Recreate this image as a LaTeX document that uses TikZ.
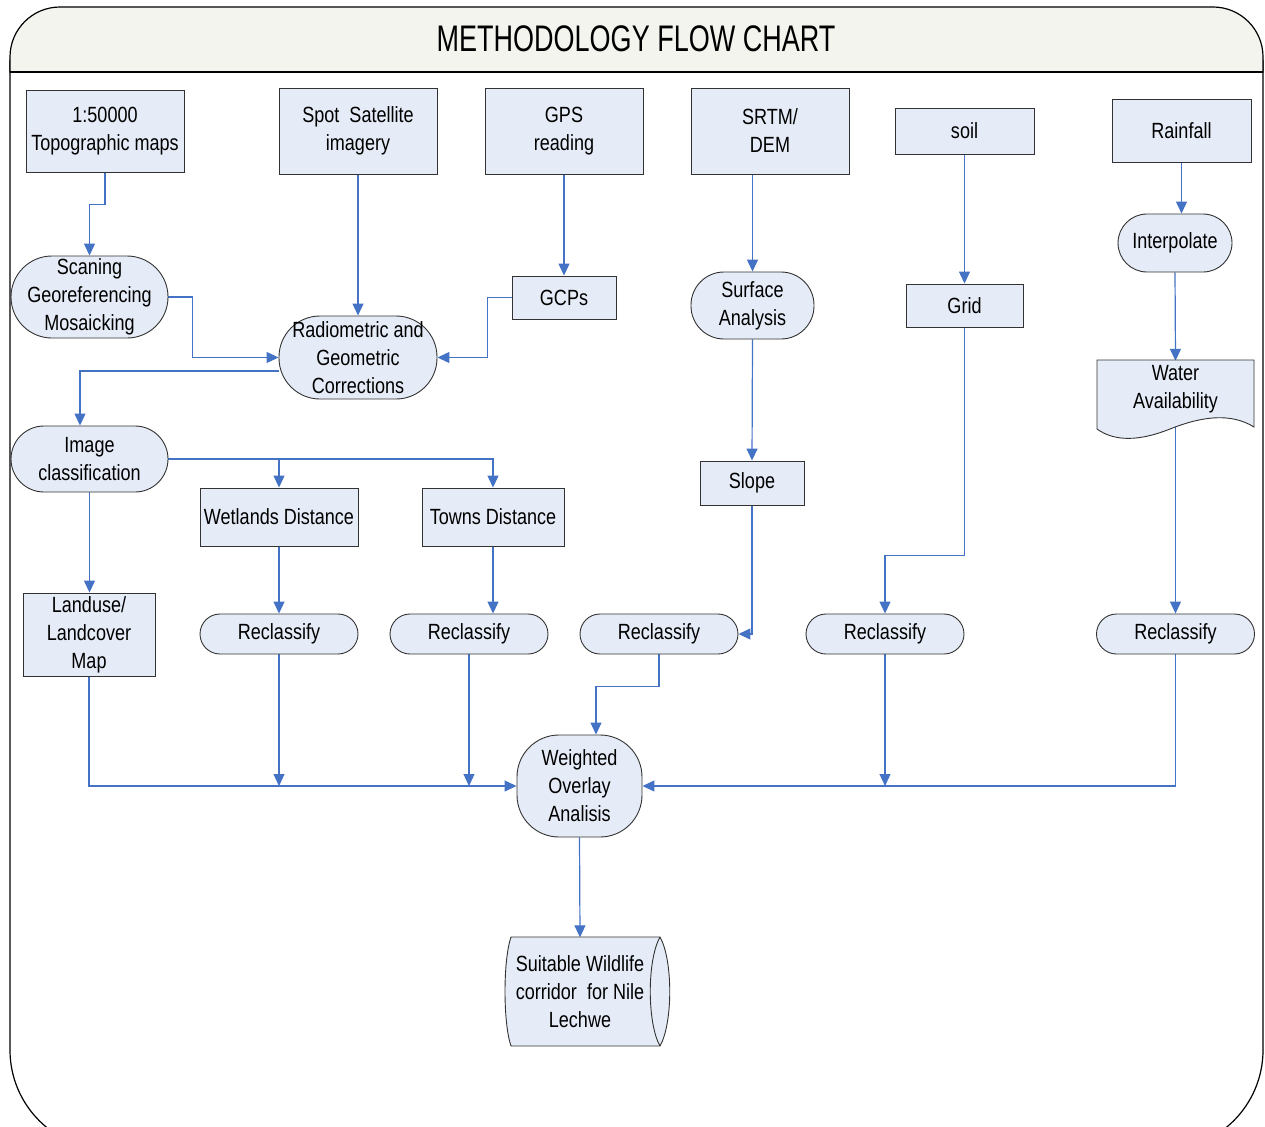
\documentclass[tikz,border=0pt]{standalone}
\usepackage{fontspec}
\newfontfamily\nodefont{Liberation Sans}[FakeStretch=0.82]
\newfontfamily\titlefont{Liberation Sans}[FakeStretch=0.73]
\usetikzlibrary{arrows.meta,backgrounds}
\definecolor{nodefill}{RGB}{230,236,247}
\definecolor{bordc}{RGB}{50,50,50}
\definecolor{conncol}{RGB}{68,114,196}
\definecolor{headfill}{RGB}{244,244,238}
\tikzset{
  base/.style={draw=bordc, fill=nodefill, line width=0.9pt, inner sep=0pt, align=center,
    font=\nodefont\fontsize{22}{28}\selectfont},
  rectbox/.style={base},
  stadium/.style={base, rounded corners=#1},
  plain/.style={inner sep=0pt, align=center, font=\nodefont\fontsize{22}{28}\selectfont},
  conn/.style={draw=conncol, line width=1.2pt, -{Triangle[length=12pt,width=11pt]}},
  conno/.style={draw=conncol, line width=1.2pt}
}
\begin{document}
\begin{tikzpicture}[x=1pt,y=-1pt]
\useasboundingbox (0,0) rectangle (1265,1126);
% frame
\draw[line width=1.2pt, black] (10,60) [rounded corners=100] -- (10,1150) -- (1263,1150) -- (1263,60);
\draw[line width=1.2pt, black, fill=headfill] (10,72) [rounded corners=50] -- (10,7) -- (1263,7) [sharp corners] -- (1263,72) -- cycle;
\draw[line width=1.2pt, black] (10,72) -- (1263,72);
\node[font=\titlefont\fontsize{37}{40}\selectfont] (title) at (636,39) {METHODOLOGY FLOW CHART};

% top row
\node[rectbox, minimum width=158, minimum height=82] (topo) at (105,131) {1:50000\\Topographic maps};
\node[rectbox, minimum width=158, minimum height=86] (spot) at (358,131) {Spot\ \ Satellite\\imagery};
\node[rectbox, minimum width=158, minimum height=86] (gps) at (564,131) {GPS\\reading};
\node[rectbox, minimum width=158, minimum height=86] (srtm) at (770,131) {SRTM/\\DEM};
\node[rectbox, minimum width=139, minimum height=46] (soil) at (964.5,131) {soil};
\node[rectbox, minimum width=139, minimum height=63] (rain) at (1181.5,130.5) {Rainfall};

% second level
\node[stadium=41, minimum width=157, minimum height=82] (scan) at (89.5,297) {Scaning\\Georeferencing\\Mosaicking};
\node[stadium=41, minimum width=158, minimum height=83] (radio) at (358,357.5) {Radiometric and\\Geometric\\Corrections};
\node[rectbox, minimum width=104, minimum height=43] (gcp) at (564,297.5) {GCPs};
\node[stadium=33, minimum width=123, minimum height=67] (surf) at (752.5,305.5) {Surface\\Analysis};
\node[rectbox, minimum width=117, minimum height=43] (grid) at (964.5,305.5) {Grid};
\node[stadium=29, minimum width=114, minimum height=58] (interp) at (1175,243) {Interpolate};
\node[plain, minimum width=157, minimum height=56] (water) at (1175.5,389) {};

% third level
\node[stadium=33, minimum width=157, minimum height=66] (img) at (89.5,459) {Image\\classification};
\node[rectbox, minimum width=158, minimum height=58] (wet) at (279,517) {Wetlands Distance};
\node[rectbox, minimum width=142, minimum height=58] (town) at (493,517) {Towns Distance};
\node[rectbox, minimum width=104, minimum height=44] (slope) at (752,483) {Slope};
\node[rectbox, minimum width=132, minimum height=83] (land) at (89,634.5) {Landuse/\\Landcover\\Map};

% reclassify
\node[stadium=20, minimum width=158, minimum height=40] (r1) at (279,634) {Reclassify};
\node[stadium=20, minimum width=158, minimum height=40] (r2) at (469,634) {Reclassify};
\node[stadium=20, minimum width=158, minimum height=40] (r3) at (659,634) {Reclassify};
\node[stadium=20, minimum width=158, minimum height=40] (r4) at (885,634) {Reclassify};
\node[stadium=20, minimum width=158, minimum height=40] (r5) at (1175.5,634) {Reclassify};

\node[stadium=42, minimum width=125, minimum height=102] (wo) at (579.5,786) {Weighted\\Overlay\\Analisis};

% water availability document shape
\path[draw=bordc, fill=nodefill, line width=0.9pt] (1097,360) -- (1254,360) -- (1254,427)
  .. controls (1230,412) and (1200,417) .. (1170,429)
  .. controls (1140,441) and (1115,442) .. (1097,429) -- cycle;
\node[plain] (watertext) at (1175.5,389) {Water\\Availability};

% final stored-data shape
\path[draw=bordc, fill=nodefill, line width=0.9pt] (511,937) -- (660,937)
  .. controls (673,960) and (673,1023) .. (660,1046) -- (511,1046)
  .. controls (503,1023) and (503,960) .. (511,937) -- cycle;
\draw[bordc, line width=0.9pt] (660,937) .. controls (647,960) and (647,1023) .. (660,1046);
\node[plain, minimum width=150, minimum height=109] (final) at (580,992) {Suitable Wildlife\\corridor\ \ for Nile\\Lechwe};

\begin{pgfonlayer}{background}
\draw[conn] (topo.south) -- ++(0,32) -| (scan.north);
\draw[conn] (scan.east) -- ++(24,0) |- (radio.west);
\draw[conn] (spot.south) -- (radio.north);
\draw[conn] (gps.south) -- (gcp.north);
\draw[conn] (gcp.west) -- ++(-24,0) |- (radio.east);
\draw[conn] ([yshift=-13.5pt]radio.west) -| ([xshift=-9.5pt]img.north);
\draw[conn] (img.east) -| (wet.north);
\draw[conn] (img.east) -| (town.north);
\draw[conn] (img.south) -- (img.south |- land.north);
\draw[conn] (wet.south) -- (r1.north);
\draw[conn] (town.south) -- (town.south |- r2.north);
\draw[conn] (srtm.south) -- ++(-17.5,0) -- (surf.north);
\draw[conn] (surf.south) -- (slope.north);
\draw[conn] (slope.south) |- (r3.east);
\draw[conn] (soil.south) -- (grid.north);
\draw[conn] (grid.south) -- ++(0,228) -| (r4.north);
\draw[conn] (rain.south) -- (rain.south |- interp.north);
\draw[conn] (interp.south) -- (water.north);
\draw[conn] (water.south) -- (r5.north);
\draw[conn] (land.south) |- (wo.west);
\draw[conn] (r1.south) -- (r1.south |- wo.west);
\draw[conn] (r2.south) -- (r2.south |- wo.west);
\draw[conn] (r3.south) -- ++(0,32) -| ([xshift=16.5pt]wo.north);
\draw[conn] (r4.south) -- (r4.south |- wo.east);
\draw[conn] (r5.south) |- (wo.east);
\draw[conn] (wo.south) -- (final.north);
\end{pgfonlayer}
\end{tikzpicture}
\end{document}
